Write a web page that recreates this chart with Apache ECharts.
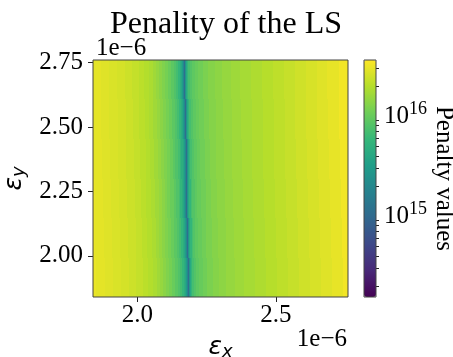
<!DOCTYPE html>
<html>
<head>
<meta charset="utf-8">
<script src="https://cdn.jsdelivr.net/npm/echarts@6/dist/echarts.min.js"></script>
<style>
  html, body { margin: 0; padding: 0; background: #fff; }
  #chart { width: 453px; height: 357px; }
</style>
</head>
<body>
<div id="chart"></div>
<script>
// all x / y values in units of 1e-6
// horizontal profile of log10(penalty), read relative to the dark valley
var profileOffset = [-0.349, -0.317, -0.288, -0.259, -0.230, -0.201, -0.176, -0.155, -0.137, -0.122,
  -0.108, -0.097, -0.086, -0.076, -0.065, -0.054, -0.043, -0.034, -0.027, -0.020,
  -0.0144, -0.0108, -0.0072, -0.0036, 0,
  0.0036, 0.0072, 0.0108, 0.0162, 0.0234, 0.032, 0.043, 0.058, 0.076, 0.097,
  0.122, 0.151, 0.183, 0.219, 0.259, 0.299, 0.338, 0.378, 0.417, 0.457,
  0.496, 0.536, 0.576, 0.612];
var profileLog = [16.49, 16.47, 16.45, 16.43, 16.41, 16.38, 16.35, 16.32, 16.29, 16.26,
  16.22, 16.18, 16.14, 16.10, 16.06, 16.01, 15.95, 15.90, 15.84, 15.76,
  15.68, 15.60, 15.48, 15.30, 15.05,
  15.40, 15.62, 15.75, 15.85, 15.91, 15.96, 16.00, 16.04, 16.08, 16.12,
  16.15, 16.18, 16.21, 16.24, 16.27, 16.30, 16.33, 16.36, 16.39, 16.42,
  16.45, 16.48, 16.52, 16.56];

// row bands (top to bottom) and where the valley sits in each
var rowEdges = [2.76, 2.607, 2.453, 2.30, 2.147, 1.993, 1.84];
var valleyX = [2.170, 2.173, 2.176, 2.179, 2.182, 2.185];

var xTicks = [2.0, 2.5];
var yTicks = [2.0, 2.25, 2.5, 2.75];
var cbarMajor = [15, 16];
var cbarMinor = [14.301, 14.477, 14.602, 14.699, 14.778, 14.845, 14.903, 14.954,
  15.301, 15.477, 15.602, 15.699, 15.778, 15.845, 15.903, 15.954, 16.301, 16.477];
var logMin = 14.19, logMax = 16.56;

var viridis = ['#440154', '#482878', '#3e4989', '#31688e', '#26828e',
  '#1f9e89', '#35b779', '#6ece58', '#b5de2b', '#fde725'];

var cells = [];
for (var r = 0; r < valleyX.length; r++) {
  for (var i = 0; i < profileOffset.length; i++) {
    var left = i === 0 ? -10 : valleyX[r] + (profileOffset[i - 1] + profileOffset[i]) / 2;
    var right = i === profileOffset.length - 1 ? 10 : valleyX[r] + (profileOffset[i] + profileOffset[i + 1]) / 2;
    cells.push([valleyX[r] + profileOffset[i], (rowEdges[r] + rowEdges[r + 1]) / 2, profileLog[i],
      left, right, rowEdges[r + 1], rowEdges[r]]);
  }
}

function renderCell(params, api) {
  var p0 = api.coord([api.value(3), api.value(6)]);
  var p1 = api.coord([api.value(4), api.value(5)]);
  // snap to whole pixels so neighbouring cells leave no seams
  var x0 = Math.round(p0[0]), x1 = Math.round(p1[0]);
  var y0 = Math.round(p0[1]), y1 = Math.round(p1[1]);
  if (x1 <= x0) return;
  var shape = echarts.graphic.clipRectByRect(
    { x: x0, y: y0, width: x1 - x0, height: y1 - y0 },
    { x: params.coordSys.x, y: params.coordSys.y, width: params.coordSys.width, height: params.coordSys.height });
  if (!shape) return;
  return { type: 'rect', shape: shape, style: { fill: api.visual('color') } };
}

var serif = 'Liberation Serif';
var chart = echarts.init(document.getElementById('chart'));
chart.setOption({
  animation: false,
  title: {
    text: 'Penality of the LS',
    left: 221, top: 4, textAlign: 'center',
    textStyle: { fontFamily: serif, fontSize: 32, fontWeight: 'normal', color: '#000' }
  },
  grid: [
    { left: 93, top: 60, width: 255, height: 237, show: true, borderColor: '#444', borderWidth: 1,
      backgroundColor: 'transparent', z: 10, outerBoundsMode: 'none', containLabel: false },
    { left: 364, top: 60, width: 12, height: 237, show: true, borderColor: '#444', borderWidth: 1,
      backgroundColor: 'transparent', z: 10, outerBoundsMode: 'none', containLabel: false }
  ],
  xAxis: [{
    type: 'value', min: 1.84, max: 2.76, gridIndex: 0,
    splitLine: { show: false }, axisLine: { show: false },
    axisTick: { customValues: xTicks, length: 5, lineStyle: { color: '#222' } },
    axisLabel: { customValues: xTicks, margin: 6, fontFamily: serif, fontSize: 25, color: '#000',
      formatter: function (v) { return v.toFixed(1); } },
    name: 'ε{s|x}', nameLocation: 'middle', nameGap: 36,
    nameTextStyle: { fontFamily: 'DejaVu Sans', fontStyle: 'italic', fontSize: 25, color: '#000',
      rich: { s: { fontFamily: 'DejaVu Sans', fontStyle: 'italic', fontSize: 18, verticalAlign: 'bottom', padding: [10, 0, 0, 0] } } }
  }, {
    type: 'value', gridIndex: 1, min: 0, max: 1, show: false
  }],
  yAxis: [{
    type: 'value', min: 1.84, max: 2.76, gridIndex: 0,
    splitLine: { show: false }, axisLine: { show: false },
    axisTick: { customValues: yTicks, length: 5, lineStyle: { color: '#222' } },
    axisLabel: { customValues: yTicks, margin: 10, fontFamily: serif, fontSize: 25, color: '#000',
      formatter: function (v) { return v.toFixed(2); } },
    name: 'ε{s|y}', nameLocation: 'middle', nameGap: 62, nameRotate: 90,
    nameTextStyle: { fontFamily: 'DejaVu Sans', fontStyle: 'italic', fontSize: 25, color: '#000',
      rich: { s: { fontFamily: 'DejaVu Sans', fontStyle: 'italic', fontSize: 18, padding: [10, 0, 0, 0] } } }
  }, {
    type: 'value', gridIndex: 1, min: logMin, max: logMax, position: 'right',
    splitLine: { show: false }, axisLine: { show: false },
    axisTick: { customValues: cbarMajor, length: 5, lineStyle: { color: '#222' } },
    axisLabel: { customValues: cbarMajor, margin: 8, color: '#000', fontFamily: serif, fontSize: 25,
      formatter: function (v) { return '10{s|' + v + '}'; },
      rich: { s: { fontFamily: serif, fontSize: 18, padding: [0, 0, 14, 0] } } },
    name: 'Penalty values', nameLocation: 'middle', nameRotate: -90, nameGap: 48,
    nameTextStyle: { fontFamily: serif, fontSize: 25, color: '#000' }
  }, {
    type: 'value', gridIndex: 1, min: logMin, max: logMax, position: 'right',
    splitLine: { show: false }, axisLine: { show: false },
    axisTick: { customValues: cbarMinor, length: 3, lineStyle: { color: '#222' } },
    axisLabel: { show: false }
  }],
  visualMap: {
    type: 'continuous', seriesIndex: 0, dimension: 2,
    min: logMin, max: logMax, calculable: false, hoverLink: false,
    left: 364, top: 60, itemWidth: 12, itemHeight: 237, padding: 0,
    text: null, showLabel: false,
    inRange: { color: viridis }
  },
  graphic: [
    { type: 'text', left: 96, top: 36, style: { text: '1e\u22126', font: '25px "Liberation Serif"', fill: '#000' } },
    { type: 'text', right: 106, top: 327, style: { text: '1e\u22126', font: '25px "Liberation Serif"', fill: '#000' } }
  ],
  series: [{
    type: 'custom', xAxisIndex: 0, yAxisIndex: 0,
    renderItem: renderCell,
    data: cells
  }, {
    type: 'scatter', xAxisIndex: 1, yAxisIndex: 1, data: []
  }]
});
</script>
</body>
</html>
